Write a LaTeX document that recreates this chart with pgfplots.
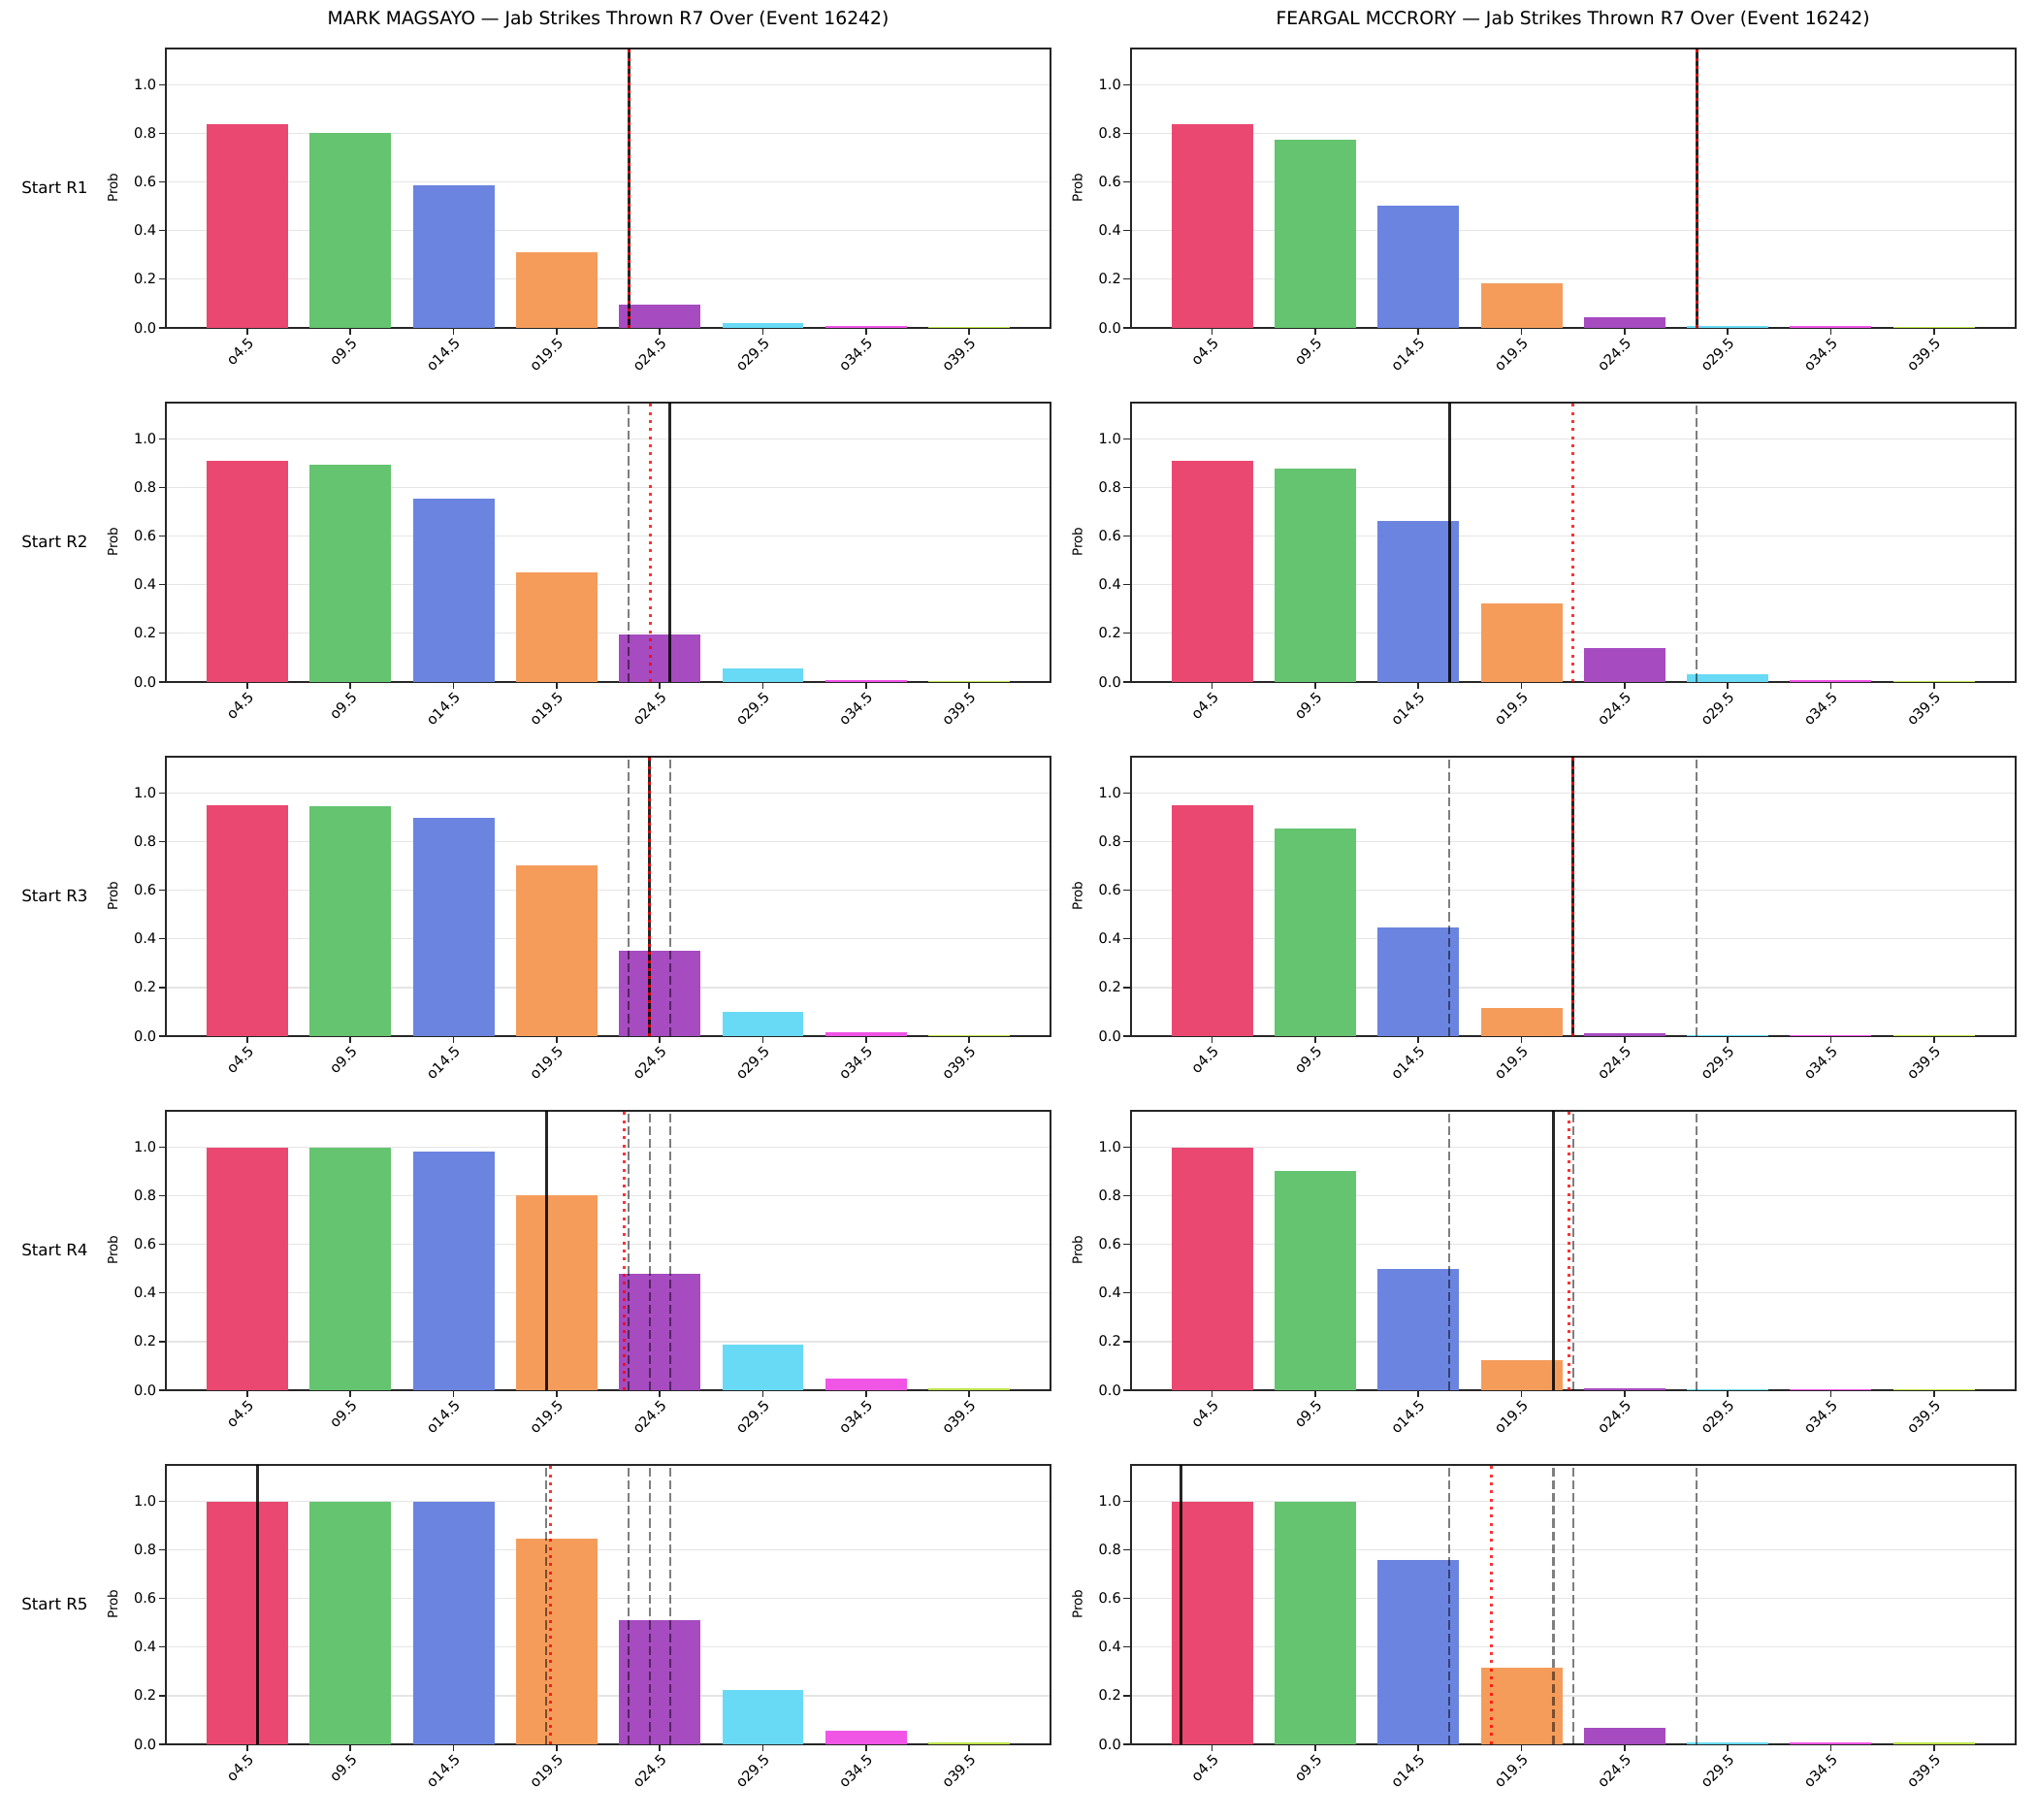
\documentclass[border=0pt]{standalone}
\usepackage{fontspec}
\setmainfont{DejaVu Sans}
\usepackage{pgfplots}
\pgfplotsset{compat=1.18}

\definecolor{c0}{HTML}{EA4870}
\definecolor{c1}{HTML}{64C46F}
\definecolor{c2}{HTML}{6A84E0}
\definecolor{c3}{HTML}{F59C5B}
\definecolor{c4}{HTML}{A64BC0}
\definecolor{c5}{HTML}{68DAF5}
\definecolor{c6}{HTML}{F055E6}
\definecolor{c7}{HTML}{BCE34A}

\pgfplotsset{
  panel/.style={
    scale only axis, width=437.8pt, height=138.1pt,
    anchor=south west,
    xmin=-0.79, xmax=7.79, ymin=0, ymax=1.15,
    xtick={0,1,2,3,4,5,6,7},
    xticklabels={o4.5,o9.5,o14.5,o19.5,o24.5,o29.5,o34.5,o39.5},
    ytick={0,0.2,0.4,0.6,0.8,1.0},
    yticklabel={\pgfmathprintnumber[fixed,fixed zerofill,precision=1,assume math mode=true]{\tick}},
    tick label style={font=\fontsize{7}{8}\selectfont},
    xticklabel style={rotate=45, anchor=north east, inner sep=0.5pt},
    yticklabel style={inner sep=1pt},
    tick pos=left, tick align=outside,
    major tick length=3.5pt,
    tick style={black!85, line width=0.8pt},
    axis line style={black!85, line width=1pt},
    ymajorgrids, major grid style={black!10, line width=0.8pt},
    ylabel={Prob},
    ylabel style={at={(axis description cs:-0.0603,0.5)}, anchor=center, font=\fontsize{6.5}{7}\selectfont},
    title style={at={(axis description cs:0.5,1)}, anchor=base, yshift=5.6pt, font=\fontsize{9}{11}\selectfont},
  },
  bar/.style={ybar, bar width=0.79, bar shift=0pt, draw=none, fill=#1},
}

\newcommand\bars[8]{%
  \addplot[bar=c0] coordinates {(0,#1)};
  \addplot[bar=c1] coordinates {(1,#2)};
  \addplot[bar=c2] coordinates {(2,#3)};
  \addplot[bar=c3] coordinates {(3,#4)};
  \addplot[bar=c4] coordinates {(4,#5)};
  \addplot[bar=c5] coordinates {(5,#6)};
  \addplot[bar=c6] coordinates {(6,#7)};
  \addplot[bar=c7] coordinates {(7,#8)};
}
\newcommand\dline[1]{\addplot[black, opacity=0.5, line width=1pt, dash pattern=on 4.4pt off 1.9pt] coordinates {(#1,0) (#1,1.15)};}
\newcommand\bline[1]{\addplot[black, opacity=0.85, line width=1.5pt] coordinates {(#1,0) (#1,1.15)};}
\newcommand\rline[1]{\addplot[red, opacity=0.8, line width=1.4pt, dash pattern=on 1.5pt off 2.5pt] coordinates {(#1,0) (#1,1.15)};}

\begin{document}
\begin{tikzpicture}
\path[use as bounding box] (0,0) rectangle (1008pt,900pt);

% ---- Row 1 ----
\begin{axis}[panel, at={(82.08pt,737.9pt)}, title={MARK MAGSAYO — Jab Strikes Thrown R7 Over (Event 16242)}]
\bars{0.837}{0.801}{0.588}{0.311}{0.095}{0.019}{0.006}{0.004}
\bline{3.70}
\rline{3.70}
\end{axis}
\begin{axis}[panel, at={(559.5pt,737.9pt)}, title={FEARGAL MCCRORY — Jab Strikes Thrown R7 Over (Event 16242)}]
\bars{0.837}{0.773}{0.504}{0.183}{0.043}{0.006}{0.005}{0.004}
\bline{4.70}
\rline{4.70}
\end{axis}

% ---- Row 2 ----
\begin{axis}[panel, at={(82.08pt,562.7pt)}]
\bars{0.909}{0.893}{0.754}{0.449}{0.193}{0.053}{0.006}{0.003}
\dline{3.70}
\bline{4.10}
\rline{3.905}
\end{axis}
\begin{axis}[panel, at={(559.5pt,562.7pt)}]
\bars{0.909}{0.877}{0.663}{0.321}{0.139}{0.032}{0.005}{0.003}
\dline{4.70}
\bline{2.30}
\rline{3.50}
\end{axis}

% ---- Row 3 ----
\begin{axis}[panel, at={(82.08pt,387.5pt)}]
\bars{0.952}{0.946}{0.898}{0.704}{0.349}{0.097}{0.016}{0.004}
\dline{3.70}
\dline{4.10}
\bline{3.90}
\rline{3.90}
\end{axis}
\begin{axis}[panel, at={(559.5pt,387.5pt)}]
\bars{0.952}{0.855}{0.446}{0.113}{0.011}{0.004}{0.003}{0.003}
\dline{2.30}
\dline{4.70}
\bline{3.50}
\rline{3.50}
\end{axis}

% ---- Row 4 ----
\begin{axis}[panel, at={(82.08pt,212.3pt)}]
\bars{0.998}{0.997}{0.984}{0.801}{0.478}{0.188}{0.048}{0.006}
\dline{3.70}
\dline{3.90}
\dline{4.10}
\bline{2.90}
\rline{3.656}
\end{axis}
\begin{axis}[panel, at={(559.5pt,212.3pt)}]
\bars{0.998}{0.903}{0.500}{0.124}{0.006}{0.004}{0.004}{0.004}
\dline{2.30}
\dline{3.50}
\dline{4.70}
\bline{3.31}
\rline{3.46}
\end{axis}

% ---- Row 5 ----
\begin{axis}[panel, at={(82.08pt,37.1pt)}]
\bars{0.997}{0.997}{0.997}{0.845}{0.512}{0.223}{0.055}{0.008}
\dline{2.90}
\dline{3.70}
\dline{3.90}
\dline{4.10}
\bline{0.10}
\rline{2.94}
\end{axis}
\begin{axis}[panel, at={(559.5pt,37.1pt)}]
\bars{0.997}{0.997}{0.757}{0.316}{0.067}{0.007}{0.006}{0.005}
\dline{2.30}
\dline{3.31}
\dline{3.50}
\dline{4.70}
\bline{-0.30}
\rline{2.71}
\end{axis}

% ---- Row labels ----
\foreach \r/\yy in {1/806.95, 2/631.75, 3/456.55, 4/281.35, 5/106.15}{
  \node[font=\fontsize{8}{10}\selectfont, anchor=center] at (27.1pt,\yy pt) {Start R\r};
}
\end{tikzpicture}
\end{document}
